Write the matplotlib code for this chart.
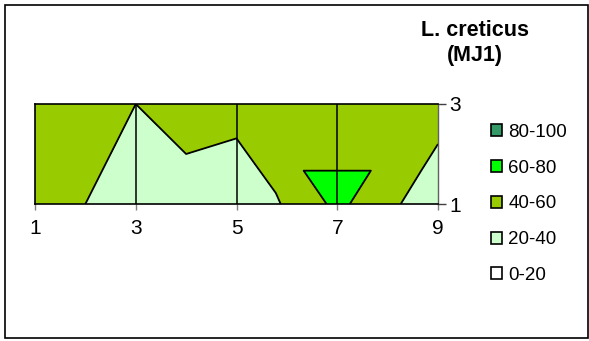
import numpy as np
import matplotlib
matplotlib.use('Agg')
import matplotlib.pyplot as plt
import matplotlib.tri as mtri
from matplotlib.patches import Patch, Rectangle

plt.rcParams['font.family'] = ['Liberation Sans', 'DejaVu Sans']

# grid of the surface: 9 columns, 3 rows
x_vals = [1, 2, 3, 4, 5, 6, 7, 8, 9]
y_vals = [1, 2, 3]
row_1 = [50, 40, 30, 30, 30, 41.4, 65, 45, 25.8]
row_2 = [50, 50, 30, 40, 35, 57.5, 57.5, 57.5, 37.5]
row_3 = [50, 50, 40, 50, 51, 50, 50, 50, 50]

levels = [0, 20, 40, 60, 80, 100]
band_labels = ['0-20', '20-40', '40-60', '60-80', '80-100']
band_colors = ['#ffffff', '#ccffcc', '#99cc00', '#00ff00', '#339966']

x_ticks = [1, 3, 5, 7, 9]
y_ticks = [1, 3]
title = 'L. creticus\n(MJ1)'

# build the triangles, cells starting at x=5 and x=6 split the other way
flip_cols = [5, 6]
nx = len(x_vals)
px, py, pz = [], [], []
for j, row in enumerate([row_1, row_2, row_3]):
    for i in range(nx):
        px.append(x_vals[i])
        py.append(y_vals[j])
        pz.append(row[i])

tris = []
for j in range(len(y_vals) - 1):
    for i in range(nx - 1):
        ll = j * nx + i
        lr = ll + 1
        ul = ll + nx
        ur = ul + 1
        if x_vals[i] in flip_cols:
            tris.append([ll, lr, ul])
            tris.append([lr, ur, ul])
        else:
            tris.append([ll, lr, ur])
            tris.append([ll, ur, ul])
tri = mtri.Triangulation(px, py, tris)

fig = plt.figure(figsize=(5.89, 3.41), dpi=100)
ax = fig.add_axes([35/589, 1-204/341, (438-35)/589, 100/341])

ax.tricontourf(tri, pz, levels=levels, colors=band_colors)
ax.tricontour(tri, pz, levels=levels[1:-1], colors='k', linewidths=1.3)

for xv in x_ticks[1:-1]:
    ax.axvline(xv, color='k', lw=1.1)

ax.set_xlim(x_vals[0], x_vals[-1])
ax.set_ylim(y_vals[0], y_vals[-1])
ax.set_xticks(x_ticks)
ax.set_xticklabels([str(v) for v in x_ticks], fontsize=15)
ax.yaxis.tick_right()
ax.set_yticks(y_ticks)
ax.set_yticklabels([str(v) for v in y_ticks], fontsize=15)
ax.tick_params(axis='x', length=4, width=1, color='#808080', pad=7, direction='out')
ax.tick_params(axis='y', length=6, width=1, color='#404040', pad=2, direction='out')
for s in ['top', 'left', 'bottom']:
    ax.spines[s].set_color('k')
    ax.spines[s].set_linewidth(1.2)
ax.spines['right'].set_color('#606060')
ax.spines['right'].set_linewidth(1)

fig.text(475/589, 1-43.5/341, title, ha='center', va='center',
         fontsize=15.5, fontweight='bold', linespacing=1.25)

handles = [Patch(facecolor=c, edgecolor='k', linewidth=1.2) for c in band_colors[::-1]]
fig.legend(handles, band_labels[::-1], loc='upper left',
           bbox_to_anchor=(491/589, 1-124/341), frameon=False, fontsize=13.5,
           handlelength=0.6, handleheight=0.6, handletextpad=0.32,
           labelspacing=1.0, borderpad=0, borderaxespad=0)

fig.patches.append(Rectangle((5/589, 3/341), 583/589, 333/341, transform=fig.transFigure,
                             fill=False, edgecolor='k', linewidth=1.2))

fig.savefig('out.png', dpi=100)
